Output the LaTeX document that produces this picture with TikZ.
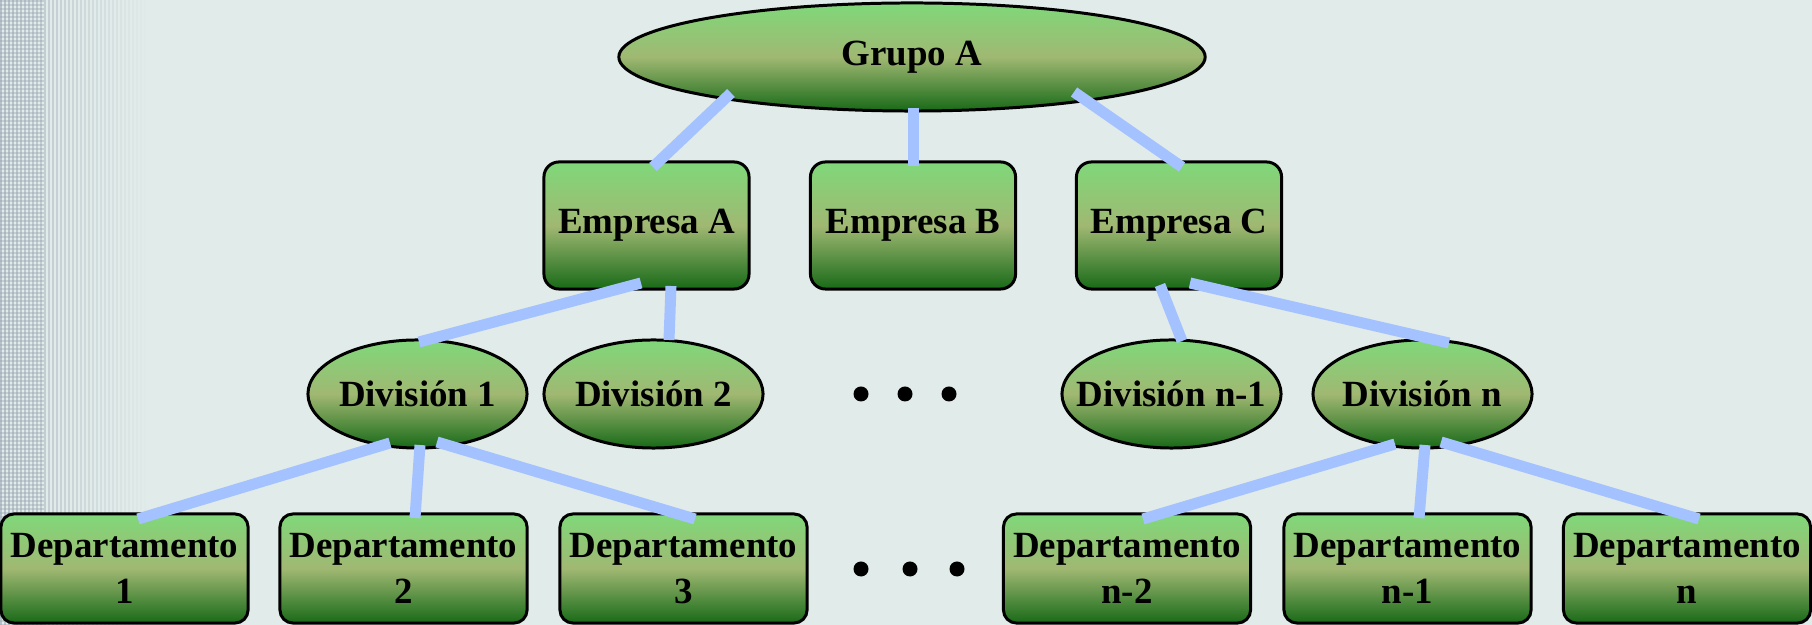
\documentclass[tikz,border=0pt]{standalone}
\usepackage{fontspec}
\setmainfont{Liberation Serif}
\usetikzlibrary{shapes.geometric,calc}
\definecolor{bg}{HTML}{E1EBE9}
\definecolor{gtop}{HTML}{80D87A}
\definecolor{gmid}{HTML}{A0B872}
\definecolor{gbot}{HTML}{186A18}
\definecolor{linkc}{HTML}{A4C2FF}
\definecolor{stripe}{HTML}{98A6B2}
\newcommand{\zw}[1]{\makebox[0pt]{#1}}
\begin{document}
\begin{tikzpicture}[x=0.01cm,y=-0.01cm,
  lbl/.style={font=\bfseries\fontsize{10.5}{13.1}\selectfont, align=center, inner sep=0pt},
  grad/.style={draw=black, line width=0.85pt, top color=gtop, bottom color=gbot, middle color=gmid},
  empbox/.style={lbl, grad, rounded corners=0.15cm, minimum width=2.05cm, minimum height=1.27cm},
  depbox/.style={lbl, grad, rounded corners=0.13cm, minimum width=2.47cm, minimum height=1.09cm},
  divell/.style={lbl, grad, ellipse, minimum width=2.19cm, minimum height=1.08cm},
  topell/.style={lbl, grad, ellipse, minimum width=5.86cm, minimum height=1.08cm},
  dotmark/.style={circle, fill=black, inner sep=0pt, minimum size=0.15cm},
  link/.style={draw=linkc, line width=0.11cm, line cap=butt}
]
\useasboundingbox (0,0) rectangle (1812,625);
\fill[bg] (0,0) rectangle (1812,625);
% left patterned strip
\foreach \i in {0,...,36}{
  \pgfmathsetmacro\op{0.6*(1-\i/37)}
  \fill[stripe, opacity=\op] ({4*\i},0) rectangle ({4*\i+2},625);
}
\foreach \j in {0,...,156}{
  \fill[stripe, opacity=0.4] (0,{4*\j}) rectangle (44,{4*\j+2});
}

% nodes
\node[topell] (g) at (912,57) {\zw{Grupo A}};

\node[empbox] (ea) at (646.5,225.5) {Empresa A};
\node[empbox] (eb) at (913,225.5) {Empresa B};
\node[empbox] (ec) at (1179,225.5) {Empresa C};

\node[divell] (d1) at (417.5,394) {\zw{División 1}};
\node[divell] (d2) at (653.5,394) {\zw{División 2}};
\node[divell] (dm) at (1171.5,394) {\zw{División n-1}};
\node[divell] (dn) at (1422.5,394) {\zw{División n}};

\node[depbox] (p1) at (124.5,568.5) {Departamento\\1};
\node[depbox] (p2) at (403.5,568.5) {Departamento\\2};
\node[depbox] (p3) at (683.5,568.5) {Departamento\\3};
\node[depbox] (pa) at (1127,568.5) {Departamento\\n-2};
\node[depbox] (pb) at (1407.5,568.5) {Departamento\\n-1};
\node[depbox] (pc) at (1687,568.5) {Departamento\\n};

\node[dotmark] (u1) at (861,394) {};
\node[dotmark] (u2) at (905,394) {};
\node[dotmark] (u3) at (949,394) {};
\node[dotmark] (v1) at (861,569) {};
\node[dotmark] (v2) at (910,569) {};
\node[dotmark] (v3) at (957,569) {};

% connectors
\draw[link] ($(g)+(-181,36)$) -- ($(ea)+(6.5,-58.5)$);
\draw[link] ($(g)+(1,51)$) -- ($(eb)+(0,-59.5)$);
\draw[link] ($(g)+(162,35)$) -- ($(ec)+(3,-58.5)$);

\draw[link] ($(ea)+(-5.5,57.5)$) -- ($(d1)+(1.5,-52)$);
\draw[link] ($(ea)+(24.5,60.5)$) -- ($(d2)+(15.5,-54)$);
\draw[link] ($(ec)+(-19,59.5)$) -- ($(dm)+(10.5,-53)$);
\draw[link] ($(ec)+(11,57.5)$) -- ($(dn)+(26.5,-51)$);

\draw[link] ($(d1)+(-27.5,49)$) -- ($(p1)+(13.5,-49.5)$);
\draw[link] ($(d1)+(2.5,51)$) -- ($(p2)+(11.5,-50.5)$);
\draw[link] ($(d1)+(19.5,48)$) -- ($(p3)+(11.5,-49.5)$);
\draw[link] ($(dn)+(-27.5,50)$) -- ($(pa)+(16,-49.5)$);
\draw[link] ($(dn)+(2.5,51)$) -- ($(pb)+(11.5,-50.5)$);
\draw[link] ($(dn)+(18.5,48)$) -- ($(pc)+(12,-49.5)$);
\end{tikzpicture}
\end{document}
